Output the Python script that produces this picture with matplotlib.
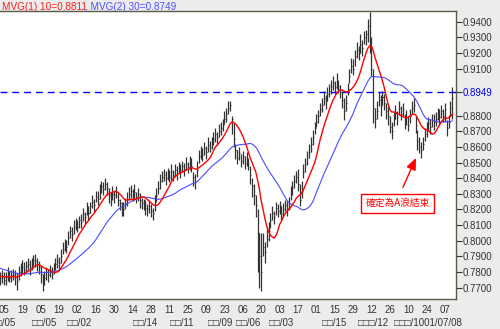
import numpy as np
import pandas as pd
import matplotlib
matplotlib.use("Agg")
import matplotlib.pyplot as plt

# ---- data (prices in 1/10000 units) ----
warmup_close = [7880,7890,7870,7860,7885,7900,7880,7865,7850,7870,7860,7845,7830,7850,7840,
                7820,7830,7810,7800,7815,7795,7790,7780,7770,7785,7775,7765,7780,7770,7760]

close = [7760,7775,7750,7770,7785,7765,7780,7790,7770,7745,
         7800,7820,7835,7815,7840,7850,7830,7855,7880,7870,
         7850,7835,7790,7730,7760,7800,7780,7810,7790,7830,
         7850,7870,7860,7900,7950,7980,7960,8020,8060,8040,
         8090,8110,8090,8130,8120,8170,8150,8200,8180,8220,
         8250,8230,8280,8270,8320,8350,8330,8360,8340,8290,
         8270,8300,8290,8310,8260,8240,8210,8200,8240,8270,
         8300,8320,8290,8310,8280,8300,8260,8240,8230,8210,
         8200,8220,8190,8180,8230,8290,8340,8380,8410,8420,
         8400,8430,8410,8440,8420,8450,8430,8470,8450,8480,
         8460,8490,8470,8500,8480,8410,8380,8450,8540,8570,
         8550,8590,8570,8610,8600,8630,8650,8680,8660,8700,
         8720,8740,8780,8810,8850,8870,8780,8650,8580,8530,
         8560,8510,8540,8500,8520,8490,8420,8350,8290,8230,
         8050,7900,7800,7960,7930,8010,8060,8130,8180,8150,
         8210,8190,8220,8170,8200,8230,8210,8240,8300,8340,
         8380,8410,8360,8260,8320,8440,8490,8530,8570,8620,
         8660,8720,8760,8800,8840,8870,8910,8890,8940,8960,
         8990,9010,8980,9020,8990,8950,8900,8830,8880,8970,
         9050,9120,9100,9180,9220,9200,9260,9230,9300,9320,
         9370,9280,9100,8850,8780,8830,8900,8860,8920,8880,
         8830,8800,8730,8700,8780,8820,8790,8850,8810,8840,
         8760,8790,8740,8800,8850,8870,8740,8640,8600,8580,
         8620,8680,8710,8750,8730,8770,8760,8780,8810,8790,
         8830,8800,8840,8720,8760,8850,8910]

up = [40,35,50,30,45,40,35,30,45,50,
      40,35,45,50,30,40,45,35,30,45,
      40,35,50,60,45,30,40,35,45,30,
      40,45,35,50,40,30,45,40,35,50,
      40,35,45,30,50,40,35,45,40,30,
      45,40,35,50,40,30,45,40,35,45,
      40,50,35,40,45,30,40,50,35,40,
      45,35,40,50,30,40,45,35,40,50,
      35,40,45,30,60,50,40,45,35,40,
      45,35,40,50,30,40,45,35,40,30,
      40,45,35,40,50,30,45,60,40,35,
      45,40,35,50,40,30,45,40,35,45,
      40,35,50,40,45,20,20,100,40,50,
      40,45,35,40,50,40,60,50,70,60,
      150,150,250,90,60,80,60,50,45,40,
      40,45,35,50,40,30,45,40,50,45,
      40,35,100,100,60,50,40,45,50,40,
      45,40,50,35,40,45,50,40,45,40,
      35,45,40,50,40,45,60,80,50,40,
      50,45,60,40,50,45,60,50,40,30,
      50,180,200,250,70,60,50,70,40,60,
      50,60,70,60,45,50,40,45,50,40,
      50,45,60,40,45,40,60,70,60,50,
      45,40,50,40,45,40,50,45,40,50,
      40,45,40,50,45,40,70]

dn = [40,45,35,50,40,30,45,40,50,60,
      50,45,40,35,45,40,50,45,40,35,
      45,50,60,50,40,50,45,40,35,45,
      40,45,50,40,35,45,40,50,45,40,
      45,40,35,50,40,45,40,35,50,45,
      40,45,35,40,50,45,40,35,45,50,
      45,40,50,35,40,45,50,40,35,45,
      40,45,35,50,40,45,50,40,35,45,
      40,45,35,50,40,45,40,50,35,40,
      45,40,35,50,40,45,40,35,50,40,
      45,40,35,50,40,60,50,40,45,50,
      40,45,50,40,35,45,40,50,45,40,
      45,40,35,50,40,40,100,50,60,40,
      45,40,50,40,45,40,60,70,60,80,
      250,200,120,60,70,50,60,50,45,40,
      45,40,50,35,45,40,50,45,40,50,
      45,40,40,40,45,40,50,45,40,50,
      45,40,35,50,40,45,40,50,45,40,
      50,45,40,50,45,40,50,60,50,40,
      45,50,40,60,50,45,60,50,40,70,
      100,80,50,100,60,50,40,60,50,45,
      50,60,40,50,45,40,50,45,40,50,
      45,50,40,45,40,50,50,60,40,50,
      40,45,50,40,45,40,50,45,40,50,
      45,40,80,50,40,50,130]

day_labels = ["05","19","05","19","02","16","30","14","28","11","25","09","23",
              "06","20","03","17","01","15","29","12","26","10","24","07"]
month_labels = ["□□/05","□□/05","□□/02","□□/14","□□/11","□□/09","□□/06","□□/03",
                "□□/15","□□□/12","□□□/1001/07/08"]
month_label_pos = [2, 24, 43, 79, 99, 120, 135, 153, 182, 203, 233]
ytick_vals = [0.94,0.93,0.92,0.91,0.88,0.87,0.86,0.85,0.84,0.83,0.82,0.81,0.80,0.79,0.78,0.77]
ref_level = 0.8949
annot_text = "確定為A浪結束"

# ---- compute ----
n_warm = len(warmup_close)
allc = pd.Series(np.array(warmup_close + close, dtype=float) / 10000.0)
ma10 = allc.rolling(10, min_periods=1).mean().values[n_warm:]
ma30 = allc.rolling(30, min_periods=1).mean().values[n_warm:]
N = min(len(close), len(up), len(dn))
c = np.array(close[:N]) / 10000.0
hi = c + np.array(up[:N]) / 10000.0
lo = c - np.array(dn[:N]) / 10000.0
x = np.arange(N)

plt.rcParams['font.family'] = ['Liberation Sans', 'DejaVu Sans']
fig = plt.figure(figsize=(5.0, 3.29), dpi=100, facecolor='#ececec')
ax = fig.add_axes([0.0, 0.0912, 0.912, 0.8754])
ax.set_facecolor('white')

ax.vlines(x, lo, hi, color='#333333', lw=0.9, zorder=2)
ax.hlines(c, x, x + 0.55, color='#333333', lw=0.7, zorder=2)
ax.plot(x, ma30[:N], color='#4a4aff', lw=0.8, zorder=3)
ax.plot(x, ma10[:N], color='#ff0000', lw=1.0, zorder=4)
ax.axhline(ref_level, color='#0000ff', lw=1.0, ls=(0, (5, 3.5)), zorder=3)

ax.set_xlim(-0.16, 248.0)
ax.set_ylim(0.76278, 0.94684)

ax.spines['left'].set_visible(False)
for s in ['top', 'bottom', 'right']:
    ax.spines[s].set_color('#5a5a48')
    ax.spines[s].set_linewidth(1.0)

ax.yaxis.tick_right()
yt = sorted(ytick_vals + [ref_level])
ax.set_yticks(yt)
ax.set_yticklabels([f"{v:.4f}" for v in yt])
ax.tick_params(axis='y', direction='out', length=4, width=0.8, colors='#333333',
               labelsize=7, pad=1)
for lab, v in zip(ax.get_yticklabels(), yt):
    if abs(v - ref_level) < 1e-6:
        lab.set_color('#0000ff')

xt = [2 + 10 * k for k in range(len(day_labels))]
ax.set_xticks(xt)
ax.set_xticklabels(day_labels)
ax.tick_params(axis='x', direction='out', length=0, width=0.6, colors='#333333',
               labelsize=7, pad=4)

for lab, pos in zip(month_labels, month_label_pos):
    ax.text(pos, -0.085, lab, transform=ax.get_xaxis_transform(), ha='center',
            va='center', fontsize=7, color='#333333', clip_on=False)

fig.text(0.004, 0.978, "MVG(1) 10=0.8811", color='#ff2020', fontsize=7.2, va='center', ha='left')
fig.text(0.170, 0.978, ", MVG(2) 30=0.8749", color='#5050ff', fontsize=7.2, va='center', ha='left')

ax.annotate("", xy=(226.8, 0.8545), xytext=(218.5, 0.8325),
            arrowprops=dict(arrowstyle='-|>,head_length=0.7,head_width=0.3',
                            color='#ff0000', lw=1.0), zorder=5)
ax.text(216.3, 0.8240, annot_text, color='#ff0000', fontsize=7, ha='center', va='center',
        family=['Noto Sans CJK TC', 'DejaVu Sans'],
        bbox=dict(boxstyle='square,pad=0.45', fc='white', ec='#ff0000', lw=1.0), zorder=6)

fig.savefig("out.png", dpi=100, facecolor=fig.get_facecolor())
